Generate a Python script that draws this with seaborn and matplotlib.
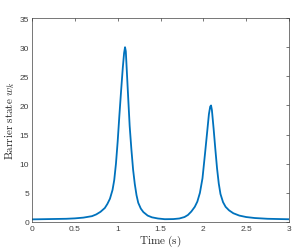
import matplotlib
matplotlib.use("Agg")
import matplotlib.pyplot as plt
import seaborn as sns
import pandas as pd

time_s = [0, 0.2, 0.4, 0.5, 0.6, 0.7, 0.75, 0.8, 0.85, 0.88, 0.91, 0.94, 0.96, 0.98,
          1.0, 1.02, 1.04, 1.06, 1.075, 1.086, 1.095, 1.11, 1.124, 1.14, 1.16, 1.18,
          1.2, 1.22, 1.24, 1.27, 1.3, 1.35, 1.4, 1.47, 1.55, 1.65, 1.72, 1.78, 1.82,
          1.86, 1.9, 1.93, 1.96, 1.99, 2.02, 2.045, 2.065, 2.08, 2.09, 2.1, 2.12,
          2.14, 2.16, 2.18, 2.2, 2.23, 2.26, 2.3, 2.35, 2.42, 2.5, 2.6, 2.75, 2.9, 3.0]
barrier = [0.45, 0.5, 0.55, 0.62, 0.75, 1.0, 1.3, 1.75, 2.4, 3.1, 4.0, 5.5, 7.2, 10,
           13.8, 18.3, 22.5, 26.5, 29, 30, 29.3, 25, 21, 16.5, 12.5, 9,
           6.5, 4.6, 3.3, 2.3, 1.7, 1.1, 0.8, 0.6, 0.48, 0.5, 0.6, 0.85, 1.2,
           1.8, 2.6, 3.5, 5.0, 7.5, 11.8, 15.5, 18.5, 19.8, 20, 19.2, 16,
           12.5, 9.2, 6.6, 4.8, 3.4, 2.6, 2.0, 1.5, 1.1, 0.85, 0.68, 0.55, 0.5, 0.47]

df = pd.DataFrame({"t": time_s, "w": barrier})

sns.set_style("white")
plt.rcParams["mathtext.fontset"] = "cm"
plt.rcParams["font.family"] = ["Liberation Sans", "DejaVu Sans"]

fig = plt.figure(figsize=(2.99, 2.51), dpi=100)
ax = fig.add_axes([0.107, 0.1116, 0.8596, 0.8124])
sns.lineplot(data=df, x="t", y="w", ax=ax, color="#0072BD", linewidth=1.3)

ax.set_xlim(0, 3)
ax.set_ylim(0, 35)
ax.set_xticks([0, 0.5, 1, 1.5, 2, 2.5, 3])
ax.set_xticklabels(["0", "0.5", "1", "1.5", "2", "2.5", "3"])
ax.set_yticks([0, 5, 10, 15, 20, 25, 30, 35])
ax.tick_params(direction="in", length=2.5, width=0.5, colors="#404040",
               labelsize=6, top=True, right=True, pad=2)
for s in ax.spines.values():
    s.set_color("#404040")
    s.set_linewidth(0.5)
ax.set_xlabel(r"$\mathrm{Time\ (s)}$", fontsize=8, color="#262626", labelpad=0.5)
ax.set_ylabel(r"$\mathrm{Barrier\ state}\ w_k$", fontsize=8, color="#262626", labelpad=2)

fig.savefig("out.png", dpi=100)
